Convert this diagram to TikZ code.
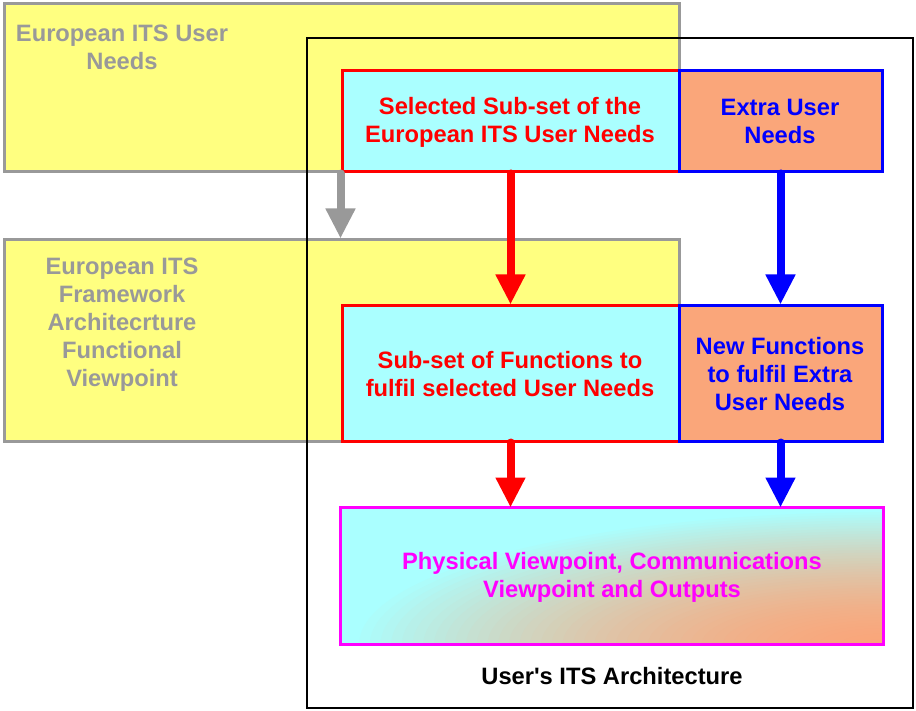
\documentclass[tikz,border=0pt]{standalone}
\usepackage{fontspec}
\setmainfont{Liberation Sans}
\usetikzlibrary{arrows.meta}

\definecolor{paleyellow}{RGB}{255,255,128}
\definecolor{palecyan}{RGB}{170,255,255}
\definecolor{salmon}{RGB}{250,166,122}
\definecolor{midgray}{RGB}{153,153,153}
\definecolor{pureblue}{RGB}{0,0,255}
\definecolor{purered}{RGB}{255,0,0}
\definecolor{puremagenta}{RGB}{255,0,255}

\tikzset{
  panel/.style={rectangle, inner sep=0pt, line width=3pt},
  euro/.style={panel, draw=midgray, fill=paleyellow},
  subsetbox/.style={panel, draw=purered, fill=palecyan},
  extrabox/.style={panel, draw=pureblue, fill=salmon},
  caption/.style={align=center, inner sep=0pt,
    font=\fontsize{23.7}{28}\selectfont\bfseries},
  flow/.style={line width=8pt, line cap=round,
    -{Triangle[width=28pt,length=30pt]}},
}

\begin{document}
\begin{tikzpicture}[x=1pt,y=-1pt]
\useasboundingbox (0,0) rectangle (916,711);

% framework boxes (background)
\node[euro, minimum width=675, minimum height=168] (needs) at (341.5,88) {};
\node[euro, minimum width=675, minimum height=201] (framework) at (341.5,340.5) {};
\node[caption, text=midgray] (needstext) at (122,47.5) {European ITS User\\Needs};
\node[caption, text=midgray] (frametext) at (122,325) {European ITS\\Framework\\Architecrture\\Functional\\Viewpoint};

% user's architecture frame
\node[rectangle, draw=black, line width=2pt, minimum width=606, minimum height=670] (user) at (610,373) {};

% top row
\node[subsetbox, minimum width=337, minimum height=101] (selected) at (510.5,121.5) {};
\node[extrabox, minimum width=203, minimum height=101] (extra) at (780.5,121.5) {};
\node[caption, text=purered] (selectedtext) at (510,122) {Selected Sub-set of the\\European ITS User Needs};
\node[caption, text=pureblue] (extratext) at (780,121.5) {Extra User\\Needs};

% middle row
\node[subsetbox, minimum width=337, minimum height=135] (functions) at (510.5,373.5) {};
\node[extrabox, minimum width=203, minimum height=135] (newfunc) at (780.5,373.5) {};
\node[caption, text=purered] (functionstext) at (510,374.5) {Sub-set of Functions to\\fulfil selected User Needs};
\node[caption, text=pureblue] (newfunctext) at (780,374) {New Functions\\to fulfil Extra\\User Needs};

% bottom box: banded elliptical blend from the lower right corner
\node[panel, fill=palecyan, minimum width=540, minimum height=134] (physical) at (612,576) {};
\begin{scope}
  \clip (physical.south west) rectangle (physical.north east);
  \foreach \i in {50,...,1}{
    \pgfmathsetmacro{\mix}{100*(1-(\i/50)^1.7)}
    \fill[salmon!\mix!palecyan]
      (physical.south east) ellipse [x radius=\i*10.7, y radius=\i*2.7];
  }
\end{scope}
\draw[puremagenta, line width=3pt] (physical.south west) rectangle (physical.north east);
\node[caption, text=puremagenta] (physicaltext) at (612,577) {Physical Viewpoint, Communications\\Viewpoint and Outputs};

\node[caption, text=black] (usertext) at (612,676) {User\textquotesingle s ITS Architecture};

% connectors
\draw[flow, midgray] (selected.south west) -- (selected.south west |- framework.north);
\draw[flow, purered] (selected.south) -- (functions.north);
\draw[flow, pureblue] (extra.south) -- (newfunc.north);
\draw[flow, purered] (functions.south) -- (functions.south |- physical.north);
\draw[flow, pureblue] (newfunc.south) -- (newfunc.south |- physical.north);
\end{tikzpicture}
\end{document}
